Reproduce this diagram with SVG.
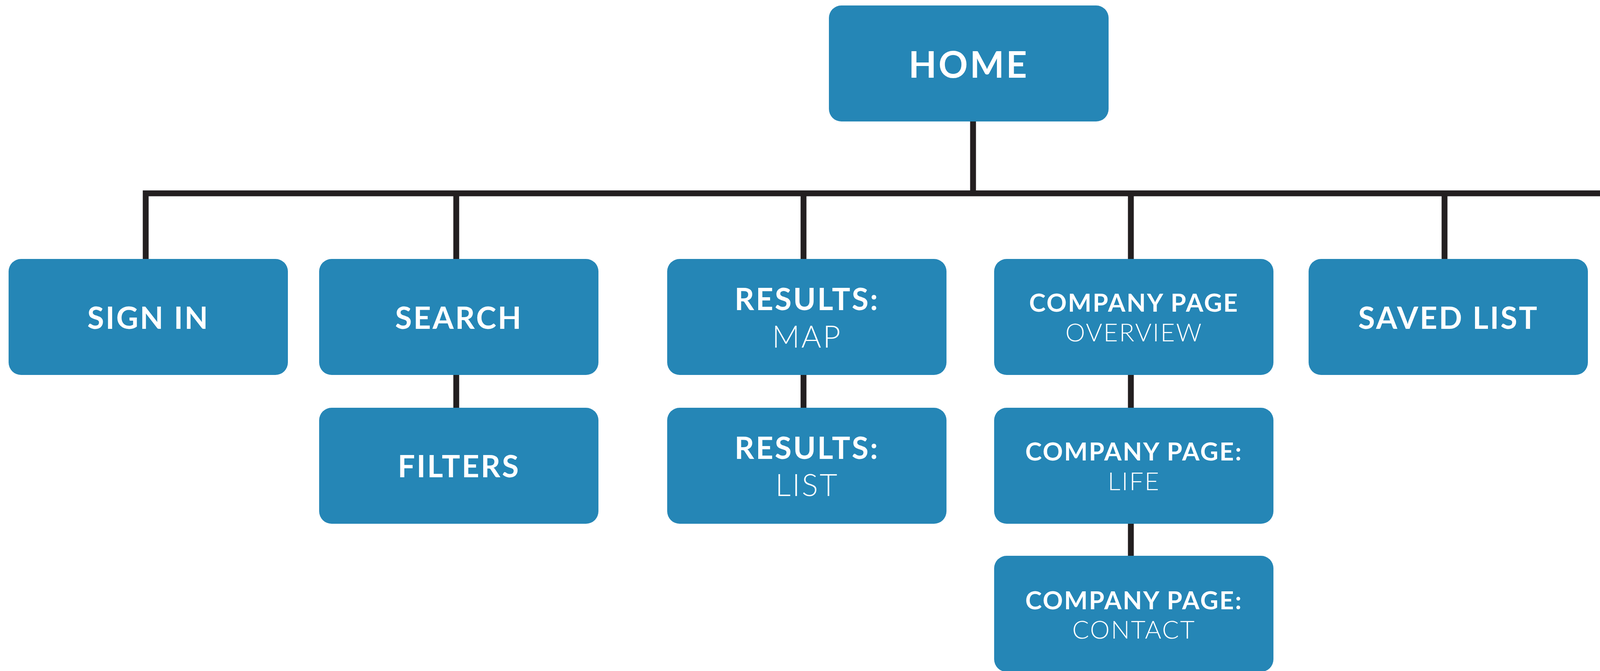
<svg xmlns="http://www.w3.org/2000/svg" width="4953" height="1718" viewBox="0 0 4953 1718">
<style>
.box{fill:#2586b6}
.t{font-family:Lato,"Open Sans","Liberation Sans",sans-serif;fill:#fff;text-anchor:middle}
.b{font-weight:700;font-size:78px;letter-spacing:4px}
.h{font-weight:700;font-size:93px;letter-spacing:5px}
.s{font-weight:700;font-size:64px;letter-spacing:3px}
.l{font-weight:300;font-size:78px;letter-spacing:4px}
.ls{font-weight:300;font-size:64px;letter-spacing:3px}
.c{fill:none;stroke:#231f20;stroke-width:15;stroke-linejoin:miter}
</style>
<rect width="4953" height="1718" fill="#fff"/>
<g id="connectors">
<path class="c" d="M2491 311V495"/>
<path class="c" d="M373 663V495H4581V663"/>
<path class="c" d="M1168 495V663M2057 495V663M2895 495V663M3698 495V663"/>
<path class="c" d="M1168 960V1044M2057 960V1044M2895 960V1044M2895 1340V1423"/>
</g>
<g id="home"><rect class="box" x="2122" y="14" width="716" height="297" rx="32"/><text class="t h" x="2480" y="199">HOME</text></g>
<g id="signin"><rect class="box" x="22" y="663" width="715" height="297" rx="32"/><text class="t b" x="380" y="842">SIGN IN</text></g>
<g id="search"><rect class="box" x="817" y="663" width="715" height="297" rx="32"/><text class="t b" x="1175" y="842">SEARCH</text></g>
<g id="filters"><rect class="box" x="817" y="1044" width="715" height="297" rx="32"/><text class="t b" x="1175" y="1222">FILTERS</text></g>
<g id="results-map"><rect class="box" x="1708" y="663" width="715" height="297" rx="32"/><text class="t b" x="2066" y="794">RESULTS:</text><text class="t l" x="2066" y="890">MAP</text></g>
<g id="results-list"><rect class="box" x="1708" y="1044" width="715" height="297" rx="32"/><text class="t b" x="2066" y="1175">RESULTS:</text><text class="t l" x="2066" y="1270">LIST</text></g>
<g id="company-overview"><rect class="box" x="2545" y="663" width="715" height="297" rx="32"/><text class="t s" x="2903" y="798">COMPANY PAGE</text><text class="t ls" x="2903" y="874">OVERVIEW</text></g>
<g id="company-life"><rect class="box" x="2545" y="1044" width="715" height="297" rx="32"/><text class="t s" x="2903" y="1179">COMPANY PAGE:</text><text class="t ls" x="2903" y="1255">LIFE</text></g>
<g id="company-contact"><rect class="box" x="2545" y="1423" width="715" height="297" rx="32"/><text class="t s" x="2903" y="1560">COMPANY PAGE:</text><text class="t ls" x="2903" y="1635">CONTACT</text></g>
<g id="saved-list"><rect class="box" x="3350" y="663" width="715" height="297" rx="32"/><text class="t b" x="3708" y="842">SAVED LIST</text></g>
<g id="messages"><rect class="box" x="4232" y="663" width="715" height="297" rx="32"/><text class="t b" x="4590" y="842">MESSAGES</text></g>
</svg>
